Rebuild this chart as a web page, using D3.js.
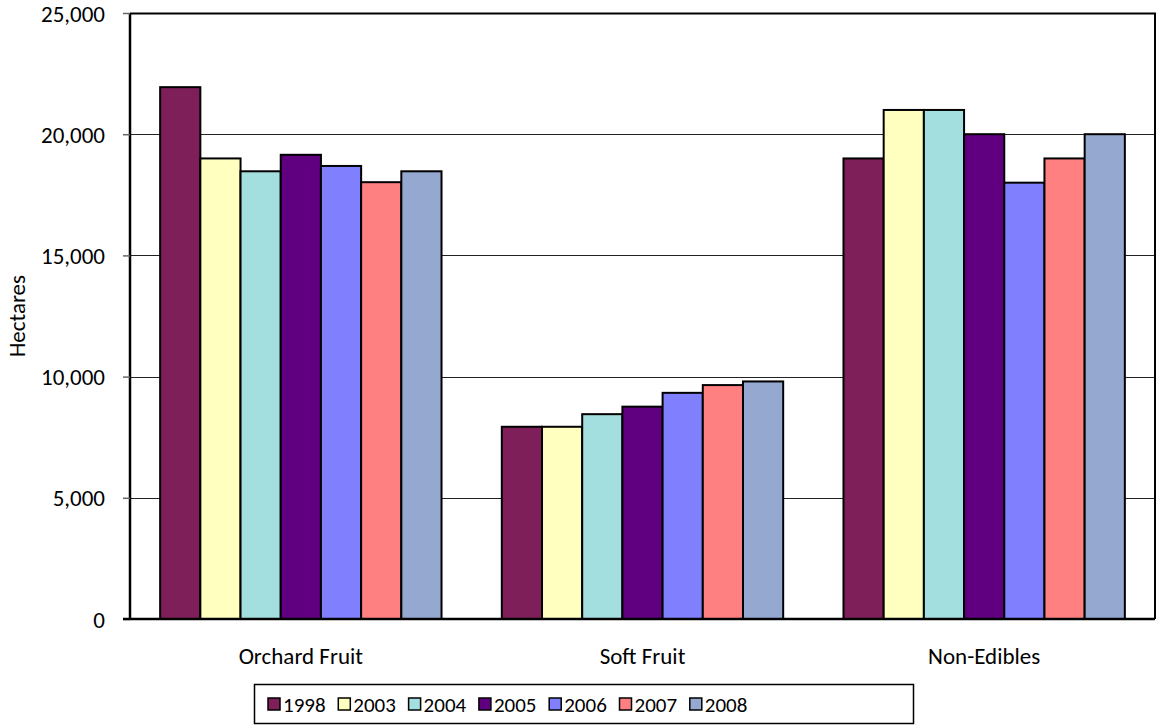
<!DOCTYPE html>
<html lang="en">
<head>
    <meta charset="utf-8">
    <title>Hectares by crop</title>
    <script type="text/javascript" src="https://cdn.jsdelivr.net/npm/d3@7"></script>
    <style>
        body { margin: 0; background: #fff; }
        text { font-family: Carlito, Lato, "Open Sans", sans-serif; fill: #000; }
    </style>
</head>
<body>
<script type="text/javascript">

    // data
    var categories = ["Orchard Fruit", "Soft Fruit", "Non-Edibles"];
    var years = ["1998", "2003", "2004", "2005", "2006", "2007", "2008"];
    var colours = ["#7f1f5a", "#ffffc0", "#a4dfdf", "#600080", "#8080ff", "#ff8080", "#95a9d0"];
    var v1998 = [21940, 7930, 19000];
    var v2003 = [19000, 7930, 21000];
    var v2004 = [18470, 8450, 21000];
    var v2005 = [19150, 8760, 20000];
    var v2006 = [18690, 9330, 18000];
    var v2007 = [18020, 9650, 19000];
    var v2008 = [18470, 9800, 20000];
    var yTicks = [0, 5000, 10000, 15000, 20000, 25000];

    var series = [v1998, v2003, v2004, v2005, v2006, v2007, v2008];

    var W = 1158, H = 727;
    var margin = {top: 13, right: 3, bottom: 108, left: 130},
        w = W - margin.left - margin.right,
        h = H - margin.top - margin.bottom;

    var svg = d3.select("body").append("svg")
        .attr("width", W)
        .attr("height", H);

    var g = svg.append("g")
        .attr("transform", "translate(" + margin.left + "," + margin.top + ")");

    var xScale = d3.scaleBand()
        .domain(categories)
        .range([0, w])
        .paddingInner(0)
        .paddingOuter(0);

    // gap width 150% -> 7 bars + 1.5 bar-widths of gap per category
    var barW = xScale.bandwidth() / (years.length + 1.5);

    var yScale = d3.scaleLinear()
        .domain([0, 25000])
        .range([h, 0]);

    // gridlines
    g.selectAll(".grid")
        .data(yTicks.slice(1, -1))
        .enter()
        .append("line")
        .attr("x1", 0)
        .attr("x2", w)
        .attr("y1", function (d) { return Math.round(yScale(d)) + 0.5; })
        .attr("y2", function (d) { return Math.round(yScale(d)) + 0.5; })
        .attr("stroke", "#222")
        .attr("stroke-width", 1);

    // bars
    series.forEach(function (vals, i) {
        g.selectAll(".bar" + i)
            .data(vals)
            .enter()
            .append("rect")
            .attr("class", "bar" + i)
            .attr("x", function (d, j) {
                return xScale(categories[j]) + barW * 0.75 + i * barW;
            })
            .attr("y", function (d) { return yScale(d); })
            .attr("width", barW)
            .attr("height", function (d) { return h - yScale(d); })
            .attr("fill", colours[i])
            .attr("stroke", "#000")
            .attr("stroke-width", 2);
    });

    // plot border (top, right)
    g.append("path")
        .attr("d", "M0,0.5H" + w + "V" + h)
        .attr("fill", "none")
        .attr("stroke", "#000")
        .attr("stroke-width", 2);

    // y axis
    var yAxis = d3.axisLeft(yScale)
        .tickValues(yTicks)
        .tickSize(7)
        .tickPadding(18)
        .tickFormat(d3.format(","));

    var ya = g.append("g")
        .attr("class", "y axis")
        .call(yAxis);
    ya.select(".domain").attr("stroke", "#000").attr("stroke-width", 2.5)
        .attr("d", "M0,0V" + h);
    ya.selectAll(".tick line").attr("stroke", "#666").attr("stroke-width", 1.5);
    ya.selectAll("text").style("font-size", "23px").attr("dy", "0.35em");

    // x axis
    var xAxis = d3.axisBottom(xScale).tickSize(0).tickPadding(29);
    var xa = g.append("g")
        .attr("class", "x axis")
        .attr("transform", "translate(0," + h + ")")
        .call(xAxis);
    xa.select(".domain").attr("stroke", "#000").attr("stroke-width", 2.5)
        .attr("d", "M-7,0H" + w);
    xa.selectAll("text").style("font-size", "23px");

    // y label
    svg.append("text")
        .attr("transform", "translate(25," + (margin.top + h / 2) + ") rotate(-90)")
        .style("text-anchor", "middle")
        .style("font-size", "23px")
        .text("Hectares");

    // legend
    var lg = svg.append("g").attr("transform", "translate(254,684)");
    lg.append("rect")
        .attr("x", 0.5).attr("y", 0.5)
        .attr("width", 659).attr("height", 39)
        .attr("fill", "#fff")
        .attr("stroke", "#000")
        .attr("stroke-width", 1.5);

    var item = lg.selectAll(".item")
        .data(years)
        .enter()
        .append("g")
        .attr("class", "item")
        .attr("transform", function (d, i) { return "translate(" + (14 + i * 70.3) + ",20)"; });

    item.append("rect")
        .attr("x", 0).attr("y", -6)
        .attr("width", 12).attr("height", 12)
        .attr("fill", function (d, i) { return colours[i]; })
        .attr("stroke", "#000")
        .attr("stroke-width", 1.5);

    item.append("text")
        .attr("x", 15)
        .attr("dy", "0.36em")
        .style("font-size", "21px")
        .text(function (d) { return d; });

</script>
</body>
</html>
